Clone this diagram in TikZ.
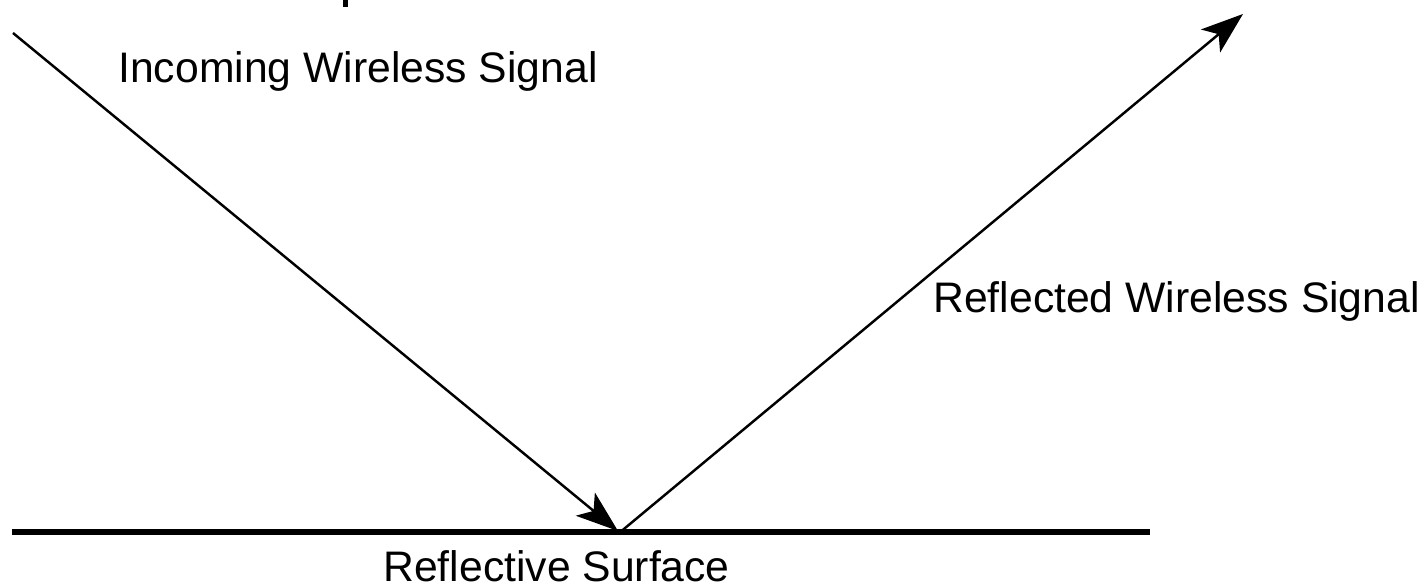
\documentclass[tikz,border=0pt]{standalone}
\usepackage{fontspec}
\setmainfont{Liberation Sans}
\usetikzlibrary{arrows.meta}
\usetikzlibrary{positioning}

\begin{document}
\begin{tikzpicture}[x=0.02cm, y=-0.02cm,
        signal/.style={line width=1.4pt, -{Stealth[length=24pt, width=17pt, inset=6pt]}},
        surface/.style={line width=3.4pt},
        lbl/.style={inner sep=0pt, anchor=base west, font=\fontsize{24.3}{29}\selectfont}]
    \useasboundingbox (0,0) rectangle (1428,587);
    \coordinate (src) at (13,33);
    \coordinate (hit) at (618,531);
    \coordinate (dst) at (1243,14);
    \coordinate (sl) at (12,532);
    \coordinate (sr) at (1150,532);
    % surface and the two rays
    \draw[surface] (sl) -- (sr);
    \draw[signal] (src) -- (hit);
    \draw[signal] ([xshift=2]hit) -- (dst);
    \fill (343,0) rectangle (348,7);
    % labels
    \node[lbl] (inc) at (118,83) {Incoming Wireless Signal};
    \node[lbl] (refl) at (933,313) {Reflected Wireless Signal};
    \node[lbl] (surf) at (383,582) {Reflective Surface};
\end{tikzpicture}
\end{document}
